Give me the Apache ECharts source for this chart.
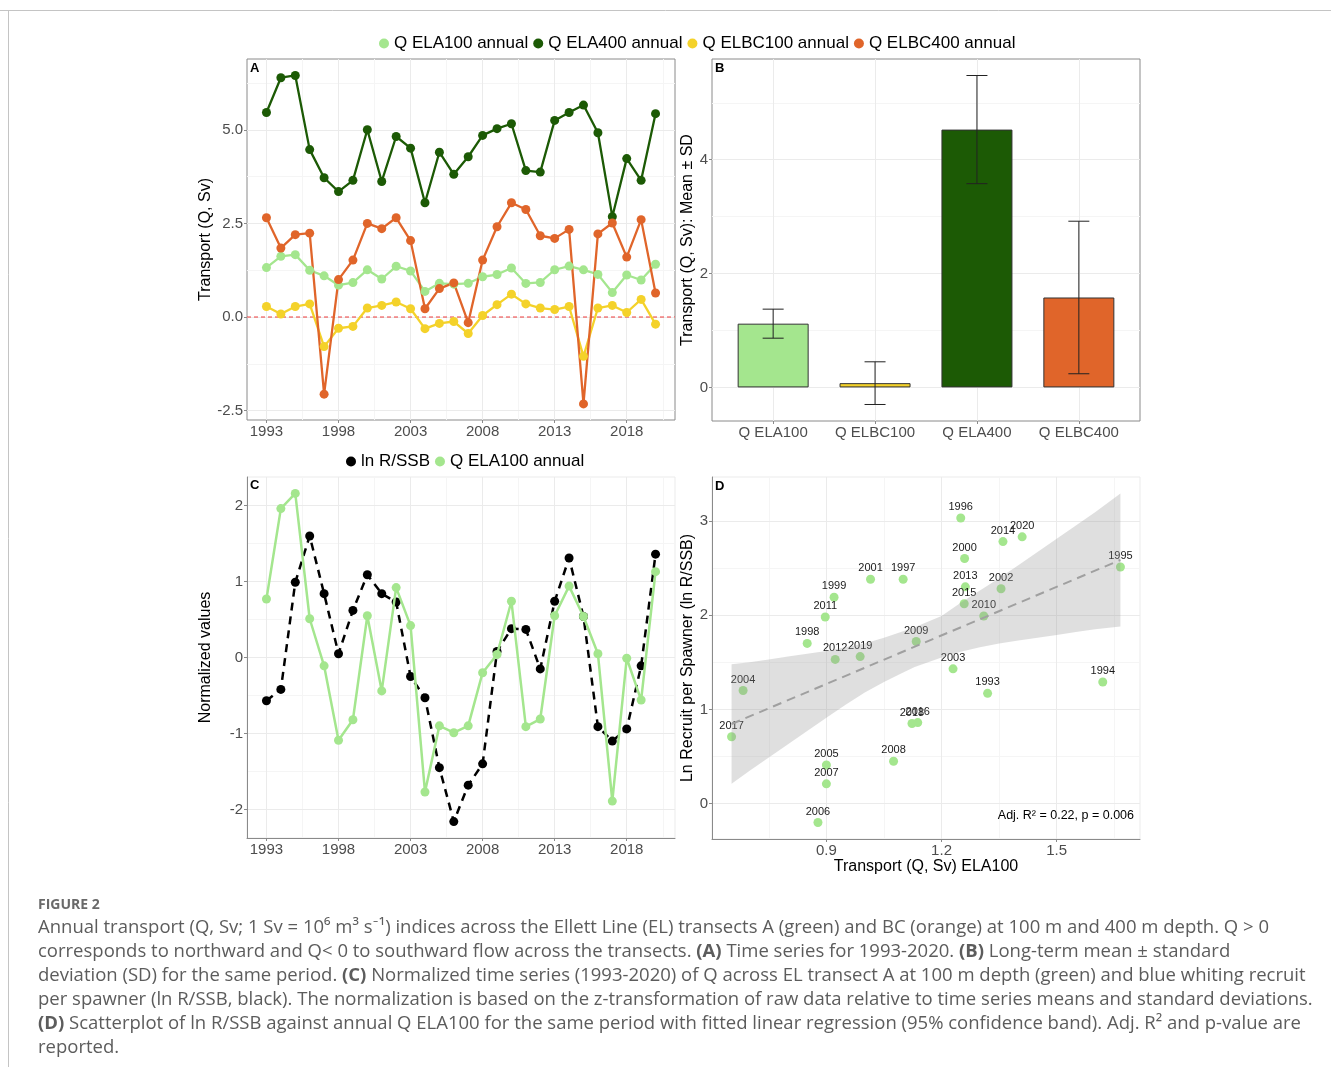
<!DOCTYPE html>
<html><head><meta charset="utf-8">
<script src="https://cdn.jsdelivr.net/npm/echarts@6/dist/echarts.min.js"></script>
<style>html,body{margin:0;padding:0;background:#fff}#c{width:1331px;height:1067px}</style>
</head><body><div id="c"></div>
<script>
// ---------- data ----------
const years = [1993,1994,1995,1996,1997,1998,1999,2000,2001,2002,2003,2004,2005,2006,2007,2008,2009,2010,2011,2012,2013,2014,2015,2016,2017,2018,2019,2020];
const qELA100 = [1.32,1.62,1.666,1.25,1.10,0.85,0.92,1.26,1.015,1.355,1.23,0.683,0.90,0.878,0.90,1.075,1.134,1.31,0.897,0.923,1.262,1.36,1.259,1.138,0.653,1.123,0.988,1.41];
const qELA400 = [5.46,6.39,6.45,4.47,3.72,3.35,3.65,5.00,3.62,4.82,4.51,3.05,4.40,3.81,4.28,4.85,5.03,5.16,3.91,3.87,5.25,5.46,5.66,4.92,2.68,4.23,3.65,5.43];
const qELBC100 = [0.28,0.08,0.28,0.35,-0.79,-0.30,-0.25,0.24,0.31,0.40,0.22,-0.31,-0.17,-0.12,-0.44,0.04,0.33,0.61,0.35,0.24,0.20,0.28,-1.05,0.24,0.31,0.12,0.47,-0.19];
const qELBC400 = [2.65,1.84,2.20,2.24,-2.06,1.00,1.52,2.50,2.36,2.65,2.04,0.22,0.76,0.91,-0.15,1.52,2.41,3.05,2.87,2.17,2.10,2.34,-2.32,2.22,2.51,1.60,2.60,0.64];
const lnRSSB = [1.17,1.29,2.51,3.03,2.38,1.70,2.19,2.60,2.38,2.28,1.43,1.20,0.41,-0.20,0.21,0.45,1.72,1.99,1.98,1.53,2.30,2.78,2.12,0.86,0.71,0.85,1.56,2.83];
const normLnRSSB = [-0.57,-0.42,0.99,1.60,0.84,0.05,0.62,1.09,0.84,0.73,-0.25,-0.53,-1.45,-2.16,-1.68,-1.40,0.08,0.38,0.37,-0.15,0.74,1.31,0.54,-0.91,-1.10,-0.94,-0.11,1.36];
const normELA100 = [0.77,1.96,2.16,0.51,-0.11,-1.09,-0.82,0.55,-0.44,0.92,0.42,-1.77,-0.90,-0.99,-0.90,-0.20,0.04,0.74,-0.91,-0.81,0.55,0.94,0.54,0.05,-1.89,-0.01,-0.56,1.13];
const barCategories = ['Q ELA100','Q ELBC100','Q ELA400','Q ELBC400'];
const barMeans = [1.12, 0.075, 4.53, 1.58];
const barSD = [0.255, 0.375, 0.95, 1.34];
const regX = [0.653, 1.666];
const regY = [0.845, 2.585];
const bandX = [0.653,0.70,0.75,0.80,0.85,0.90,0.95,1.00,1.05,1.10,1.13,1.20,1.25,1.30,1.35,1.40,1.45,1.50,1.55,1.60,1.666];
const bandLow = [0.21,0.35,0.49,0.63,0.77,0.91,1.05,1.18,1.29,1.39,1.45,1.55,1.61,1.66,1.70,1.73,1.76,1.79,1.82,1.85,1.88];
const bandHigh = [1.48,1.50,1.53,1.56,1.59,1.62,1.66,1.70,1.76,1.83,1.87,1.99,2.13,2.26,2.39,2.53,2.67,2.81,2.95,3.09,3.29];
const yearTicks = [1993,1998,2003,2008,2013,2018];
const yearMinor = [1995.5,2000.5,2005.5,2010.5,2015.5,2020.5];
const aTicks = [-2.5,0,2.5,5];
const aMinor = [-1.25,1.25,3.75,6.25];
const bTicks = [0,2,4];
const bMinor = [1,3,5];
const cTicks = [-2,-1,0,1,2];
const cMinor = [-1.5,-0.5,0.5,1.5];
const dXTicks = [0.9,1.2,1.5];
const dXMinor = [0.75,1.05,1.35,1.65];
const dYTicks = [0,1,2,3];
const dYMinor = [0.5,1.5,2.5];
const aXRange = [1991.65, 2021.35];

// ---------- style ----------
const FONT = '"Liberation Sans", Arial, sans-serif';
const CAPF = '"Open Sans", Lato, sans-serif';
const C_LG = '#a4e68e', C_DG = '#1c5a05', C_YE = '#f4d22a', C_OR = '#e0652a';
const BORDER = '#8a8a8a', MAJ = '#ebebeb', MIN = '#f5f5f5';

const chart = echarts.init(document.getElementById('c'), null, {renderer: 'canvas'});

function gridSeries(idx, xMaj, xMin, yMaj, yMin, anchor) {
  const mk = (arr, key, col) => arr.map(v => ({[key]: v, lineStyle: {color: col, width: 1, type: 'solid'}}));
  return {
    type: 'line', xAxisIndex: idx, yAxisIndex: idx, data: [anchor], symbol: 'none',
    lineStyle: {opacity: 0}, silent: true, z: 0, legendHoverLink: false,
    markLine: {silent: true, z: 0, symbol: 'none', label: {show: false}, animation: false,
      data: [].concat(mk(xMin, 'xAxis', MIN), mk(yMin, 'yAxis', MIN), mk(xMaj, 'xAxis', MAJ), mk(yMaj, 'yAxis', MAJ))}
  };
}

const tickLbl = {fontSize: 15, color: '#4d4d4d', fontFamily: FONT};
const nameTS = {fontSize: 16, color: '#000', fontFamily: FONT};

function xAxisCfg(idx, min, max, ticks, fmt, lineShow, extra) {
  return Object.assign({
    gridIndex: idx, type: 'value', min, max, splitLine: {show: false},
    axisLine: {show: lineShow, onZero: false, lineStyle: {color: BORDER, width: 1}},
    axisTick: {show: true, customValues: ticks, length: 3, lineStyle: {color: BORDER}},
    axisLabel: Object.assign({customValues: ticks, margin: 4, formatter: fmt}, tickLbl)
  }, extra || {});
}
function yAxisCfg(idx, min, max, ticks, fmt, name, gap, lineShow) {
  return {
    gridIndex: idx, type: 'value', min, max, splitLine: {show: false},
    axisLine: {show: lineShow, onZero: false, lineStyle: {color: BORDER, width: 1}},
    axisTick: {show: true, customValues: ticks, length: 3, lineStyle: {color: BORDER}},
    axisLabel: Object.assign({customValues: ticks, margin: 4, formatter: fmt}, tickLbl),
    name, nameLocation: 'middle', nameGap: gap, nameTextStyle: nameTS
  };
}

const pairs = arr => years.map((y, i) => [y, arr[i]]);
function lineA(name, arr, col) {
  return {type: 'line', name, xAxisIndex: 0, yAxisIndex: 0, data: pairs(arr), symbol: 'circle', symbolSize: 9,
    showSymbol: true, lineStyle: {width: 2.3, color: col}, itemStyle: {color: col}, z: 3};
}

const capBase = {fontSize: 18.5, fontFamily: CAPF, fill: '#5c5c5c'};
const capRich = {
  b: {fontSize: 18.5, fontFamily: CAPF, fontWeight: 'bold', fill: '#5c5c5c'}
};
const capLines = [
  'Annual transport (Q, Sv; 1 Sv = 10⁶ m³ s⁻¹) indices across the Ellett Line (EL) transects A (green) and BC (orange) at 100 m and 400 m depth. Q > 0',
  'corresponds to northward and Q< 0 to southward flow across the transects. {b|(A)} Time series for 1993-2020. {b|(B)} Long-term mean ± standard',
  'deviation (SD) for the same period. {b|(C)} Normalized time series (1993-2020) of Q across EL transect A at 100 m depth (green) and blue whiting recruit',
  'per spawner (ln R/SSB, black). The normalization is based on the z-transformation of raw data relative to time series means and standard deviations.',
  '{b|(D)} Scatterplot of ln R/SSB against annual Q ELA100 for the same period with fitted linear regression (95% confidence band). Adj. R² and p-value are',
  'reported.'
];

const graphics = [
  {type: 'line', shape: {x1: 0, y1: 10.5, x2: 1331, y2: 10.5}, style: {stroke: '#c4c4c4', lineWidth: 1}},
  {type: 'line', shape: {x1: 8.5, y1: 10, x2: 8.5, y2: 1067}, style: {stroke: '#c4c4c4', lineWidth: 1}},
  {type: 'text', x: 250, y: 68, z: 10, style: {text: 'A', fontSize: 13, fontWeight: 'bold', fontFamily: FONT, fill: '#000', verticalAlign: 'middle'}},
  {type: 'text', x: 715, y: 68, z: 10, style: {text: 'B', fontSize: 13, fontWeight: 'bold', fontFamily: FONT, fill: '#000', verticalAlign: 'middle'}},
  {type: 'text', x: 250, y: 485, z: 10, style: {text: 'C', fontSize: 13, fontWeight: 'bold', fontFamily: FONT, fill: '#000', verticalAlign: 'middle'}},
  {type: 'text', x: 715, y: 486, z: 10, style: {text: 'D', fontSize: 13, fontWeight: 'bold', fontFamily: FONT, fill: '#000', verticalAlign: 'middle'}},
  {type: 'text', x: 1134, y: 816, z: 10, style: {text: 'Adj. R² = 0.22, p = 0.006', fontSize: 12.5, fontFamily: FONT, fill: '#000', align: 'right', verticalAlign: 'middle'}},
  {type: 'text', x: 38, y: 905, style: {text: 'FIGURE 2', fontSize: 14, fontWeight: 'bold', fontFamily: CAPF, fill: '#6a6a6a', verticalAlign: 'middle'}}
];
capLines.forEach((t, i) => {
  graphics.push({type: 'text', x: 38, y: 928 + i * 24, style: Object.assign({text: t, rich: capRich, verticalAlign: 'middle'}, capBase)});
});

const option = {
  animation: false,
  backgroundColor: '#fff',
  textStyle: {fontFamily: FONT},
  legend: [
    {data: ['Q ELA100 annual','Q ELA400 annual','Q ELBC100 annual','Q ELBC400 annual'], left: 374, top: 30,
     icon: 'circle', itemWidth: 10, itemHeight: 10, itemGap: 5, selectedMode: false,
     textStyle: {fontSize: 17, color: '#000', fontFamily: FONT}},
    {data: ['ln R/SSB','Q ELA100 annual'], left: 341, top: 448,
     icon: 'circle', itemWidth: 10, itemHeight: 10, itemGap: 5, selectedMode: false,
     textStyle: {fontSize: 17, color: '#000', fontFamily: FONT}}
  ],
  grid: [
    {left: 247, top: 59, width: 428, height: 361, show: true, borderColor: BORDER, borderWidth: 1, backgroundColor: 'transparent'},
    {left: 712, top: 59, width: 428, height: 362, show: true, borderColor: BORDER, borderWidth: 1, backgroundColor: 'transparent'},
    {left: 247, top: 477, width: 428, height: 361, show: true, borderColor: MAJ, borderWidth: 1, backgroundColor: 'transparent'},
    {left: 712, top: 477, width: 428, height: 362, show: true, borderColor: MAJ, borderWidth: 1, backgroundColor: 'transparent'}
  ],
  xAxis: [
    xAxisCfg(0, aXRange[0], aXRange[1], yearTicks, v => String(v), false),
    xAxisCfg(1, 0.4, 4.6, [1,2,3,4], v => barCategories[Math.round(v) - 1], false),
    xAxisCfg(2, aXRange[0], aXRange[1], yearTicks, v => String(v), true),
    xAxisCfg(3, 0.602, 1.717, dXTicks, v => v.toFixed(1), true,
      {name: 'Transport (Q, Sv) ELA100', nameLocation: 'middle', nameGap: 17, nameTextStyle: nameTS})
  ],
  yAxis: [
    yAxisCfg(0, -2.75, 6.89, aTicks, v => v.toFixed(1), 'Transport (Q, Sv)', 33, false),
    yAxisCfg(1, -0.59, 5.77, bTicks, v => String(v), 'Transport (Q, Sv): Mean ± SD', 13, false),
    yAxisCfg(2, -2.376, 2.376, cTicks, v => String(v), 'Normalized values', 33, true),
    yAxisCfg(3, -0.375, 3.465, dYTicks, v => String(v), 'Ln Recruit per Spawner (ln R/SSB)', 13, true)
  ],
  graphic: graphics,
  series: [
    gridSeries(0, yearTicks, yearMinor, aTicks, aMinor, [1993, 0]),
    gridSeries(1, [1,2,3,4], [], bTicks, bMinor, [1, 0]),
    gridSeries(2, yearTicks, yearMinor, cTicks, cMinor, [1993, 0]),
    gridSeries(3, dXTicks, dXMinor, dYTicks, dYMinor, [0.9, 0]),
    // zero reference line in A
    {type: 'line', xAxisIndex: 0, yAxisIndex: 0, data: [[aXRange[0], 0], [aXRange[1], 0]], symbol: 'none', silent: true, z: 2,
     lineStyle: {color: '#ee3b3b', width: 1, type: [4, 3]}},
    lineA('Q ELA100 annual', qELA100, C_LG),
    lineA('Q ELA400 annual', qELA400, C_DG),
    lineA('Q ELBC100 annual', qELBC100, C_YE),
    lineA('Q ELBC400 annual', qELBC400, C_OR),
    // B bars
    {type: 'bar', xAxisIndex: 1, yAxisIndex: 1, barWidth: 71, z: 3,
     data: barMeans.map((m, i) => ({value: [i + 1, m], itemStyle: {color: [C_LG, C_YE, C_DG, C_OR][i], borderColor: '#333', borderWidth: 1}}))},
    {type: 'custom', xAxisIndex: 1, yAxisIndex: 1, z: 4, silent: true,
     data: barMeans.map((m, i) => [i + 1, m - barSD[i], m + barSD[i]]),
     renderItem: (params, api) => {
       const lo = api.coord([api.value(0), api.value(1)]);
       const hi = api.coord([api.value(0), api.value(2)]);
       const h = 10.5, st = {stroke: '#222', lineWidth: 1};
       return {type: 'group', children: [
         {type: 'line', shape: {x1: lo[0], y1: lo[1], x2: hi[0], y2: hi[1]}, style: st},
         {type: 'line', shape: {x1: lo[0] - h, y1: lo[1], x2: lo[0] + h, y2: lo[1]}, style: st},
         {type: 'line', shape: {x1: hi[0] - h, y1: hi[1], x2: hi[0] + h, y2: hi[1]}, style: st}
       ]};
     }},
    // C
    {type: 'line', name: 'ln R/SSB', xAxisIndex: 2, yAxisIndex: 2, data: pairs(normLnRSSB), symbol: 'circle', symbolSize: 9,
     lineStyle: {width: 2.5, color: '#000', type: [8, 6]}, itemStyle: {color: '#000'}, z: 3},
    {type: 'line', name: 'Q ELA100 annual', xAxisIndex: 2, yAxisIndex: 2, data: pairs(normELA100), symbol: 'circle', symbolSize: 9,
     lineStyle: {width: 2.5, color: C_LG}, itemStyle: {color: C_LG}, z: 4},
    // D
    {type: 'scatter', xAxisIndex: 3, yAxisIndex: 3, symbolSize: 9, itemStyle: {color: C_LG, opacity: 1}, z: 2,
     data: years.map((y, i) => ({value: [qELA100[i], lnRSSB[i]], name: String(y)})),
     label: {show: true, position: 'top', distance: 1, formatter: p => p.name, fontSize: 11, color: '#1a1a1a', fontFamily: FONT}},
    {type: 'custom', xAxisIndex: 3, yAxisIndex: 3, z: 5, silent: true, data: [[0]],
     renderItem: (params, api) => {
       const pts = [];
       bandX.forEach((x, i) => pts.push(api.coord([x, bandHigh[i]])));
       for (let i = bandX.length - 1; i >= 0; i--) pts.push(api.coord([bandX[i], bandLow[i]]));
       return {type: 'polygon', shape: {points: pts}, style: {fill: 'rgba(150,150,150,0.3)', stroke: 'none'}};
     }},
    {type: 'line', xAxisIndex: 3, yAxisIndex: 3, data: regX.map((x, i) => [x, regY[i]]), symbol: 'none', z: 6, silent: true,
     lineStyle: {color: '#a0a0a0', width: 2, type: [9, 6]}}
  ]
};
chart.setOption(option);
</script>
</body></html>
